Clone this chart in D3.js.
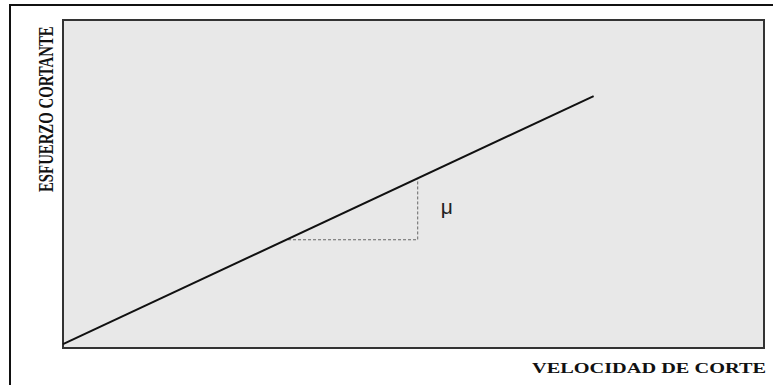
<!DOCTYPE html>
<html>
<head>
<meta charset="utf-8">
<script src="https://cdn.jsdelivr.net/npm/d3@7"></script>
<style>
  body { margin: 0; background: #fff; }
</style>
</head>
<body>
<svg width="773" height="385"></svg>
<script>
// Data (arbitrary units)
const velocidad = [0, 7.57];
const esfuerzo = [0.12, 7.68];
const triX = [3.21, 5.06, 5.06];
const triY = [3.3, 3.3, 5.15];
const muPos = [5.39, 4.08];
const xTitle = "VELOCIDAD DE CORTE";
const yTitle = "ESFUERZO CORTANTE";

const svg = d3.select("svg");

// outer frame (runs off right/bottom edge)
svg.append("rect")
  .attr("x", 10).attr("y", 5)
  .attr("width", 800).attr("height", 400)
  .attr("fill", "#fff")
  .attr("stroke", "#111")
  .attr("stroke-width", 2);

const plot = { left: 63, top: 20, right: 764, bottom: 348 };

const x = d3.scaleLinear().domain([0, 10]).range([plot.left, plot.right]);
const y = d3.scaleLinear().domain([0, 10]).range([plot.bottom, plot.top]);

svg.append("rect")
  .attr("x", plot.left).attr("y", plot.top)
  .attr("width", plot.right - plot.left)
  .attr("height", plot.bottom - plot.top)
  .attr("fill", "#e8e8e8")
  .attr("stroke", "#333")
  .attr("stroke-width", 2);

// dashed slope triangle
const tri = triX.map((d, i) => [d, triY[i]]);
svg.append("path")
  .attr("d", d3.line().x(d => x(d[0])).y(d => y(d[1]))(tri))
  .attr("fill", "none")
  .attr("stroke", "#666")
  .attr("stroke-width", 1)
  .attr("stroke-dasharray", "3,2");

// main line
const pts = velocidad.map((d, i) => [d, esfuerzo[i]]);
svg.append("path")
  .attr("d", d3.line().x(d => x(d[0])).y(d => y(d[1]))(pts))
  .attr("fill", "none")
  .attr("stroke", "#111")
  .attr("stroke-width", 2);

svg.append("text")
  .attr("x", x(muPos[0]))
  .attr("y", y(muPos[1]))
  .attr("font-family", "Liberation Sans, Arial, sans-serif")
  .attr("font-size", 21)
  .attr("fill", "#222")
  .text("\u03bc");

// axis titles
svg.append("text")
  .attr("x", 532).attr("y", 373)
  .attr("font-family", "Liberation Serif, Times New Roman, serif")
  .attr("font-weight", "bold")
  .attr("font-size", 15)
  .attr("textLength", 234)
  .attr("lengthAdjust", "spacingAndGlyphs")
  .attr("fill", "#111")
  .text(xTitle);

// tall, narrow lettering: small font stretched across the baseline
svg.append("text")
  .attr("transform", "translate(53,192) rotate(-90) scale(1,1.4)")
  .attr("font-family", "Liberation Serif, Times New Roman, serif")
  .attr("font-weight", "bold")
  .attr("font-size", 14.8)
  .attr("fill", "#111")
  .text(yTitle);
</script>
</body>
</html>
